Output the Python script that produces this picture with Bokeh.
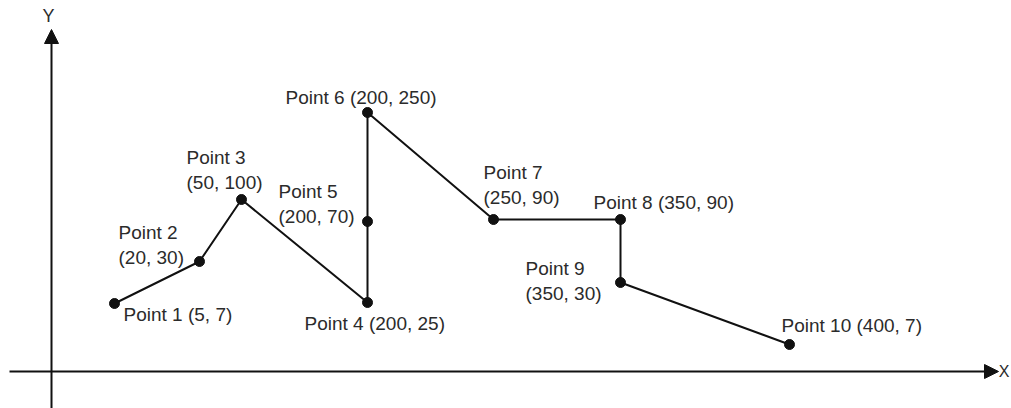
from bokeh.plotting import figure
from bokeh.models import Range1d, Arrow, NormalHead, ColumnDataSource, Label
from bokeh.core.properties import value
from bokeh.embed import file_html
from bokeh.resources import INLINE

# ---- data ----
names = ["Point 1", "Point 2", "Point 3", "Point 4", "Point 5",
         "Point 6", "Point 7", "Point 8", "Point 9", "Point 10"]
label_x = [5, 20, 50, 200, 200, 200, 250, 350, 350, 400]
label_y = [7, 30, 100, 25, 70, 250, 90, 90, 30, 7]
# schematic drawing positions (diagram units, origin at axes crossing)
plot_x = [63, 148, 190, 316, 316, 316, 442, 569, 569, 738]
plot_y = [68, 110, 172, 69, 150, 259, 152, 152, 89, 27]
# label layout: one-line or two-line
two_line = [False, True, True, False, True, False, True, False, True, False]

FONT = "Liberation Sans"
TXT = "#2b2b2b"
INK = "#111111"

p = figure(width=1011, height=408, output_backend="svg", toolbar_location=None,
           x_range=Range1d(-51, 960), y_range=Range1d(-37, 371),
           x_axis_location=None, y_axis_location=None, min_border=0,
           outline_line_color=None, background_fill_color="white",
           border_fill_color="white")
p.grid.visible = False

# axes as arrows
p.add_layout(Arrow(x_start=-42, y_start=0, x_end=947, y_end=0, line_width=2,
                   line_color=INK,
                   end=NormalHead(size=14, fill_color=INK, line_color=INK)))
p.add_layout(Arrow(x_start=0, y_start=-40, x_end=0, y_end=342, line_width=2,
                   line_color=INK,
                   end=NormalHead(size=14, fill_color=INK, line_color=INK)))
p.add_layout(Label(x=-3, y=356, text="Y", text_align="center",
                   text_baseline="middle", text_font=FONT,
                   text_font_size="18px", text_color=TXT))
p.add_layout(Label(x=958, y=0, text="X", text_align="right",
                   text_baseline="middle", text_font=FONT,
                   text_font_size="16px", text_color=TXT))

# polyline and points
p.line(plot_x, plot_y, line_width=2, line_color=INK)
p.scatter(plot_x, plot_y, size=10, fill_color=INK, line_color=INK)

# labels
offsets = [(9, 11), (-81, -29), (-55, -42), (-63, 21), (-89, -30),
           (-82, -15), (-10, -47), (-27, -17), (-95, -14), (-8, -19)]
tx, ty, tt, xo, yo = [], [], [], [], []
for i in range(len(names)):
    coord = f"({label_x[i]}, {label_y[i]})"
    dx, dy = offsets[i]
    if two_line[i]:
        tx += [plot_x[i], plot_x[i]]
        ty += [plot_y[i], plot_y[i]]
        tt += [names[i], coord]
        xo += [dx, dx]
        yo += [dy, dy + 25]
    else:
        tx.append(plot_x[i]); ty.append(plot_y[i])
        tt.append(f"{names[i]} {coord}")
        xo.append(dx); yo.append(dy)

src = ColumnDataSource(dict(x=tx, y=ty, text=tt, xo=xo, yo=yo))
p.text(x="x", y="y", text="text", x_offset="xo", y_offset="yo", source=src,
       text_align="left", text_baseline="middle", text_font=value(FONT),
       text_font_size="19px", text_color=TXT)

open("out.html", "w").write(file_html(p, INLINE))
